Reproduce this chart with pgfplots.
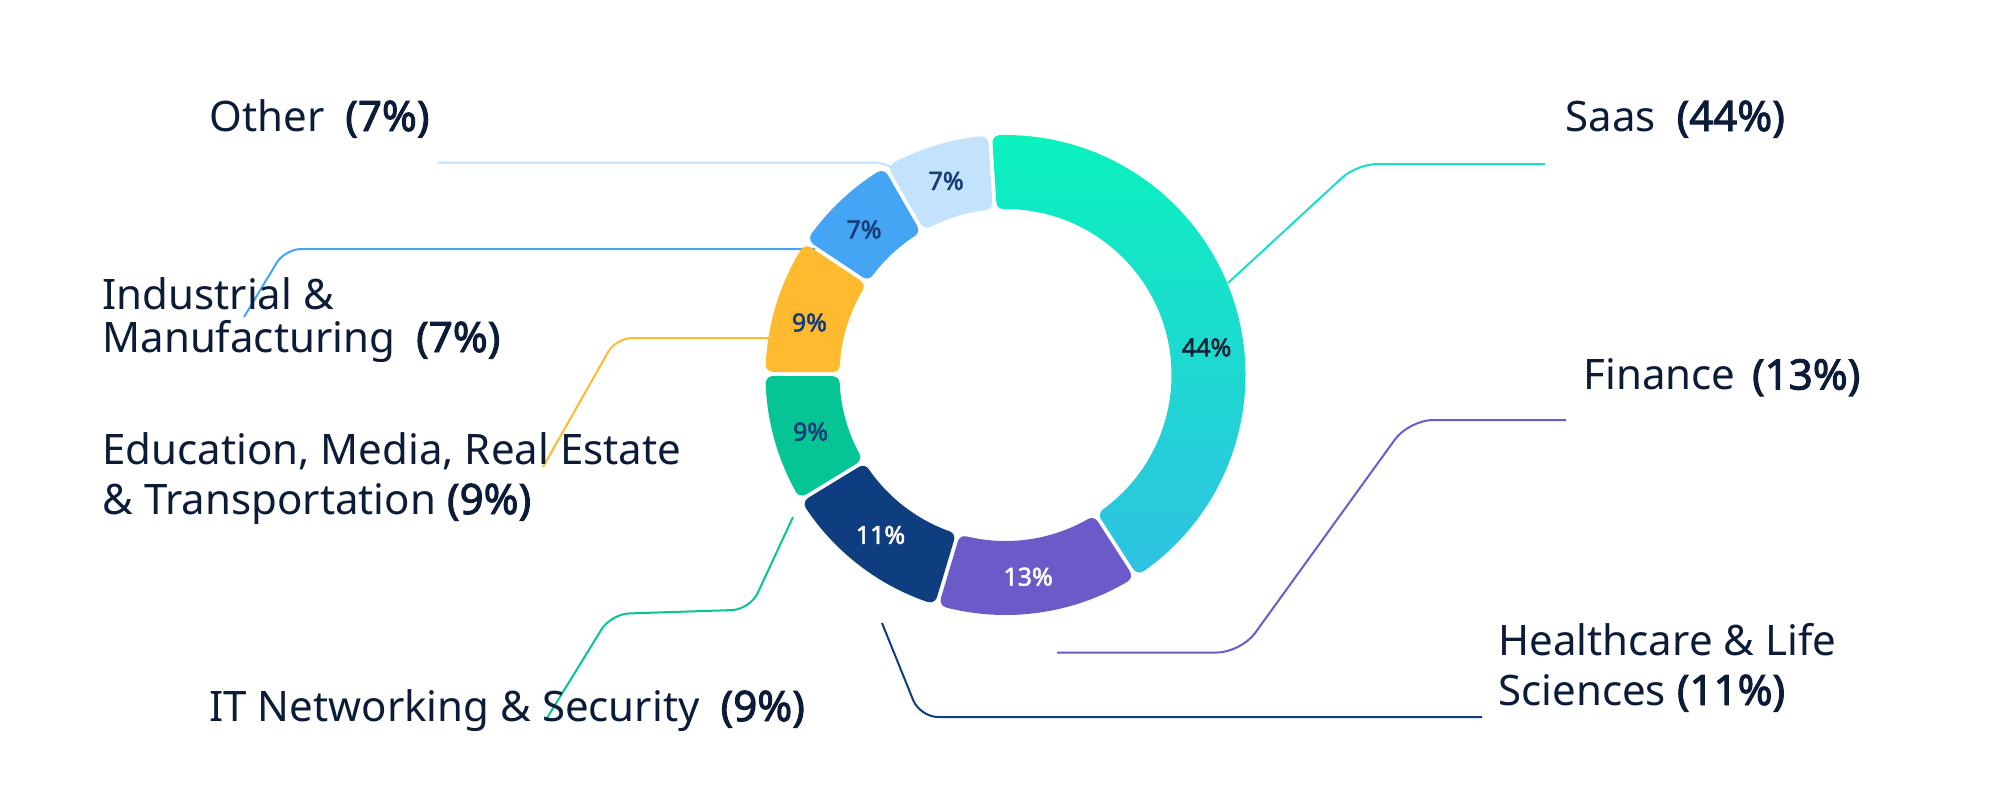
\documentclass[border=0pt]{standalone}
\usepackage{pgfplots}
\pgfplotsset{compat=1.18}
\usepackage{pgfplotstable}
\usetikzlibrary{calc}
\usepackage{fontspec}
\setmainfont{Noto Sans}[AutoFakeBold=2.2]

\definecolor{txt}{HTML}{0B1B38}
\definecolor{saasA}{HTML}{0AF2BE}
\definecolor{saasB}{HTML}{2FC2E2}
\definecolor{saasL}{HTML}{18DDCB}
\definecolor{finance}{HTML}{6A5BC9}
\definecolor{health}{HTML}{0F3E80}
\definecolor{itnet}{HTML}{06C594}
\definecolor{edu}{HTML}{FFBA30}
\definecolor{indus}{HTML}{45A5F5}
\definecolor{other}{HTML}{C3E2FC}
\definecolor{inlab}{HTML}{173D78}
\definecolor{darklab}{HTML}{0D2137}

% value = share of the ring as drawn, label = printed percentage, lang = clockwise angle of the label
\pgfplotstableread{
value  label lang
41.9   44    82.2
13.75  13    173.6
11.65  11    218.0
8.8    9     253.8
9.3    9     285.0
7.3    7     315.8
7.3    7     343.0
}\donut

\tikzset{
  seg0/.style={top color=saasA, bottom color=saasB},
  seg1/.style={fill=finance},
  seg2/.style={fill=health},
  seg3/.style={fill=itnet},
  seg4/.style={fill=edu},
  seg5/.style={fill=indus},
  seg6/.style={fill=other},
  lab0/.style={text=darklab},
  lab1/.style={text=white},
  lab2/.style={text=white},
  lab3/.style={text=inlab},
  lab4/.style={text=inlab},
  lab5/.style={text=inlab},
  lab6/.style={text=inlab},
}

% geometry in pt (1 px of the reference = 0.5 pt)
\def\Ro{120}
\def\Ri{83}
\def\rc{3.6}
\def\dd{4.6}

\newcommand\donutseg[3]{%
  \pgfmathsetmacro\thA{90-(#2)}%
  \pgfmathsetmacro\thB{90-(#1)}%
  \pgfmathsetmacro\dOut{asin(\dd/(\Ro-\rc))}%
  \pgfmathsetmacro\dIn{asin(\dd/(\Ri+\rc))}%
  \pgfmathsetmacro\aAo{\thA+\dOut}%
  \pgfmathsetmacro\aBo{\thB-\dOut}%
  \pgfmathsetmacro\aAi{\thA+\dIn}%
  \pgfmathsetmacro\aBi{\thB-\dIn}%
  \pgfmathsetmacro\RoC{\Ro-\rc}%
  \pgfmathsetmacro\RiC{\Ri+\rc}%
  \pgfmathsetmacro\pB{\thB+90}%
  \pgfmathsetmacro\pA{\thA-90}%
  \pgfmathsetmacro\pAA{\thA+270}%
  \pgfmathsetmacro\iB{\aBi+180}%
  \pgfmathsetmacro\iA{\aAi+180}%
  \path[seg#3] ($(C)+(\aAo:\Ro pt)$)
     arc[start angle=\aAo, end angle=\aBo, radius=\Ro pt]
     arc[start angle=\aBo, end angle=\pB, radius=\rc pt]
     -- ($(C)+(\aBi:\RiC pt)+(\pB:\rc pt)$)
     arc[start angle=\pB, end angle=\iB, radius=\rc pt]
     arc[start angle=\aBi, end angle=\aAi, radius=\Ri pt]
     arc[start angle=\iA, end angle=\pAA, radius=\rc pt]
     -- ($(C)+(\aAo:\RoC pt)+(\pA:\rc pt)$)
     arc[start angle=\pA, end angle=\aAo, radius=\rc pt]
     -- cycle;
}

\begin{document}
\begin{tikzpicture}
\useasboundingbox (0,0) rectangle (1005pt,405pt);
\begin{axis}[
  x=0.5pt, y=0.5pt,
  xmin=0, xmax=2010, ymin=0, ymax=810,
  y dir=reverse,
  hide axis, clip=false,
  every axis plot/.append style={line width=1pt, no markers},
]
% leader lines
\addplot[draw=other, rounded corners=6pt] coordinates {(438,162.5) (886,162.5) (898,172)};
\addplot[draw=indus, rounded corners=8pt] coordinates {(244,317) (285,249) (815,249)};
\addplot[draw=edu, rounded corners=8pt] coordinates {(543,467) (616,338) (769,338)};
\addplot[draw=itnet, rounded corners=9pt] coordinates {(547,718) (611,614) (750,609.5) (793,517)};
\addplot[draw=health, rounded corners=9pt] coordinates {(882,623) (920,717) (1482,717)};
\addplot[draw=finance, rounded corners=12pt] coordinates {(1057,652.5) (1241,652.5) (1409,420) (1566,420)};
\addplot[draw=saasL, rounded corners=10pt] coordinates {(1228,283) (1357,164) (1545,164)};

% donut ring
\pgfplotsextra{%
  \coordinate (C) at (axis cs:1005.5,375);
  \xdef\cumcw{-3.7}%
  \pgfplotsforeachungrouped \i in {0,...,6}{%
    \pgfplotstablegetelem{\i}{value}\of\donut \let\v\pgfplotsretval
    \pgfplotstablegetelem{\i}{label}\of\donut \let\lab\pgfplotsretval
    \pgfplotstablegetelem{\i}{lang}\of\donut \let\lang\pgfplotsretval
    \pgfmathsetmacro\cA{\cumcw}%
    \pgfmathsetmacro\cB{\cumcw+3.6*\v}%
    \xdef\cumcw{\cB}%
    \donutseg{\cA}{\cB}{\i}%
    \pgfmathsetmacro\lm{90-\lang}%
    \node[lab\i, font=\fontsize{12.5}{14}\selectfont\bfseries, inner sep=0pt]
      at ($(C)+(\lm:101.5pt)$) {\lab\%};
  }%
}

% category labels
\begin{scope}[every node/.style={anchor=base west, inner sep=0pt, text=txt, font=\fontsize{21}{25}\selectfont}]
\node at (axis cs:209,131) {Other\hspace{0.5em}\textbf{(7\%)}};
\node at (axis cs:102,309) {Industrial \&};
\node at (axis cs:102,352) {Manufacturing\hspace{0.5em}\textbf{(7\%)}};
\node at (axis cs:102,464) {Education, Media, Real Estate};
\node at (axis cs:102,514) {\& Transportation \textbf{(9\%)}};
\node at (axis cs:209,721) {IT Networking \& Security\hspace{0.5em}\textbf{(9\%)}};
\node at (axis cs:1565,131) {Saas\hspace{0.5em}\textbf{(44\%)}};
\node at (axis cs:1583,389.5) {Finance\hspace{0.4em}\textbf{(13\%)}};
\node at (axis cs:1498,655) {Healthcare \& Life};
\node at (axis cs:1498,705) {Sciences \textbf{(11\%)}};
\end{scope}
\end{axis}
\end{tikzpicture}
\end{document}
